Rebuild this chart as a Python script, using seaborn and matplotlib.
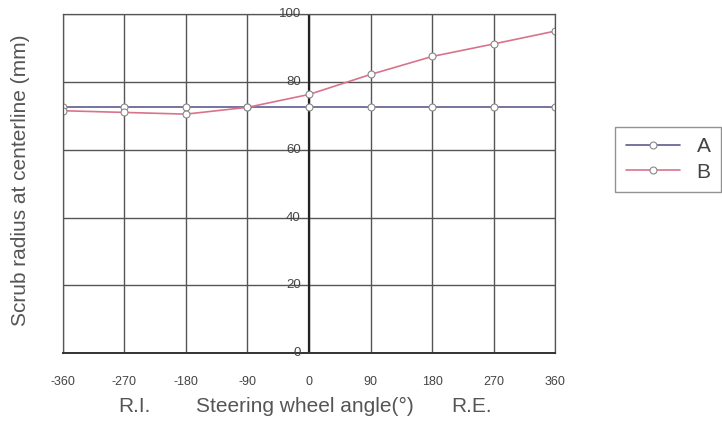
import seaborn as sns
import matplotlib.pyplot as plt
import pandas as pd

# data
angle = [-360, -270, -180, -90, 0, 90, 180, 270, 360]
scrub_a = [72.5, 72.5, 72.5, 72.5, 72.5, 72.5, 72.5, 72.5, 72.5]
scrub_b = [71.5, 71.0, 70.5, 72.5, 76.3, 82.2, 87.5, 91.2, 95.0]
x_ticks = [-360, -270, -180, -90, 0, 90, 180, 270, 360]
y_ticks = [0, 20, 40, 60, 80, 100]

df = pd.concat([
    pd.DataFrame({"angle": angle, "scrub": scrub_a, "serie": "A"}),
    pd.DataFrame({"angle": angle, "scrub": scrub_b, "serie": "B"}),
])

sns.set_style("white")
plt.rcParams["font.family"] = ["Liberation Sans", "DejaVu Sans"]
plt.rcParams["axes.unicode_minus"] = False

fig = plt.figure(figsize=(7.22, 4.28), dpi=100)
ax = fig.add_axes([0.087, 0.175, 0.682, 0.792])

cores = {"A": "#5c5c8e", "B": "#d9738c"}
sns.lineplot(x="angle", y="scrub", hue="serie", data=df, palette=cores,
             marker="o", markersize=5, markerfacecolor="white",
             markeredgecolor="#888888", markeredgewidth=0.8,
             linewidth=1.2, ax=ax, legend=True)

ax.set_xlim(-360, 360)
ax.set_ylim(0, 100)
ax.set_xticks(x_ticks)
ax.set_yticks(y_ticks)
ax.grid(True, color="#555555", linewidth=1.0)
ax.set_axisbelow(True)

for s in ["top", "right", "left"]:
    ax.spines[s].set_color("#555555")
    ax.spines[s].set_linewidth(0.9)
ax.spines["bottom"].set_color("#333333")
ax.spines["bottom"].set_linewidth(1.4)

# y axis drawn at x=0 with labels beside it
ax.tick_params(axis="y", left=False, labelleft=False)
for v in y_ticks:
    ax.text(-12, v, str(v), ha="right", va="center", fontsize=9.5, color="#444444")
ax.axvline(0, color="#222222", linewidth=1.6, zorder=1)

ax.tick_params(axis="x", direction="inout", length=7, color="#333333",
               labelsize=9, labelcolor="#444444", pad=13)

ax.set_xlabel("")
ax.set_ylabel("")
fig.text(0.028, 0.579, "Scrub radius at centerline (mm)", rotation=90,
         ha="center", va="center", fontsize=15, color="#555555")
fig.text(0.422, 0.038, "Steering wheel angle(°)", ha="center", fontsize=15, color="#555555")
fig.text(0.186, 0.038, "R.I.", ha="center", fontsize=15, color="#555555")
fig.text(0.653, 0.038, "R.E.", ha="center", fontsize=15, color="#555555")

leg = ax.legend(loc="upper left", bbox_to_anchor=(1.122, 0.667), frameon=True,
                fontsize=15, handlelength=2.6, borderpad=0.5, labelspacing=0.3,
                borderaxespad=0, fancybox=False)
leg.get_frame().set_edgecolor("#777777")
leg.get_frame().set_linewidth(1.0)
for t in leg.get_texts():
    t.set_color("#444444")

plt.savefig("out.png", dpi=100)
plt.close()
